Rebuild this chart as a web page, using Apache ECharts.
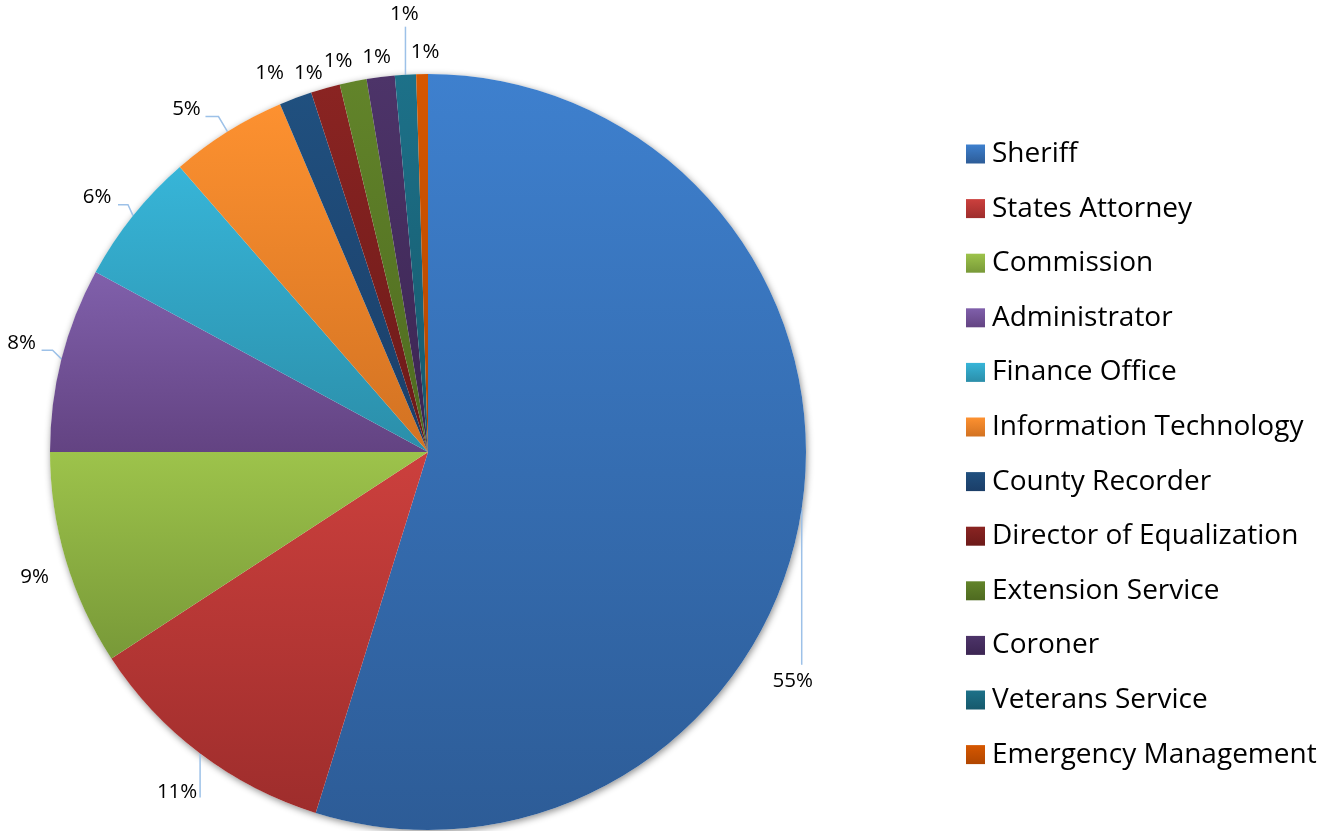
<!DOCTYPE html>
<html>
<head>
<meta charset="utf-8">
<title>Departments</title>
<script src="https://cdn.jsdelivr.net/npm/echarts@6/dist/echarts.min.js"></script>
<style>
  html, body { margin: 0; padding: 0; background: #ffffff; }
  #chart { width: 1319px; height: 831px; }
</style>
</head>
<body>
<div id="chart"></div>
<script>
// Department shares of the budget (percent)
const categories = [
  'Sheriff', 'States Attorney', 'Commission', 'Administrator', 'Finance Office',
  'Information Technology', 'County Recorder', 'Director of Equalization',
  'Extension Service', 'Coroner', 'Veterans Service', 'Emergency Management'
];
const shares = [54.8, 11.0, 9.2, 7.9, 5.7, 5.0, 1.4, 1.25, 1.15, 1.2, 0.9, 0.5];

// Slice fills: vertical gradient, lighter at the top of each slice
const sliceColors = [
  ['#3e80ce', '#2d5c97'],
  ['#cc403d', '#9e2d2c'],
  ['#9dc34b', '#789938'],
  ['#8060ab', '#634382'],
  ['#37b5d8', '#2b8ea9'],
  ['#fd9130', '#d27222'],
  ['#20507f', '#1b3e68'],
  ['#8a2422', '#6c1a19'],
  ['#62842a', '#4e6a20'],
  ['#4d3469', '#3b2552'],
  ['#1d7189', '#16596c'],
  ['#d65700', '#b04600']
];

// Label placement relative to the slice's outer mid-point, and leader-line shape
const labelGuides = [
  { at: [-9, 172], line: [[0, 0], [0, 156]] },
  { at: [-23, 39], line: [[0, 0], [0, 44]] },
  { at: [-31, 17], line: null },
  { at: [-40, -16], line: [[0, 0], [-9, -9], [-20, -9]] },
  { at: [-36, -19], line: [[0, 0], [-5, -11], [-15, -11]] },
  { at: [-41, -22], line: [[0, 0], [-9, -15], [-22, -15]] },
  { at: [-26, -25], line: null },
  { at: [-17, -15], line: null },
  { at: [-15, -20], line: null },
  { at: [-4, -20], line: null },
  { at: [-1, -61], line: [[0, 0], [0, -48]] },
  { at: [3, -22], line: null }
];

const FONT = '"Open Sans", "Noto Sans", sans-serif';
const CENTER = [428, 452];
const RADIUS = 378;

function grad(pair) {
  return new echarts.graphic.LinearGradient(0, 0, 0, 1, [
    { offset: 0, color: pair[0] },
    { offset: 1, color: pair[1] }
  ]);
}

const total = shares.reduce((a, b) => a + b, 0);

const pieData = categories.map((name, i) => ({
  name: name,
  value: shares[i],
  itemStyle: { color: grad(sliceColors[i]) }
}));

const chart = echarts.init(document.getElementById('chart'), null, { renderer: 'canvas' });

chart.setOption({
  backgroundColor: '#ffffff',
  animation: false,
  legend: {
    orient: 'vertical',
    left: 961,
    top: 133,
    icon: 'rect',
    itemWidth: 19,
    itemHeight: 19,
    itemGap: 22.6,
    selectedMode: false,
    data: categories,
    textStyle: {
      fontFamily: FONT,
      fontSize: 28,
      lineHeight: 32,
      color: '#000000',
      padding: [0, 0, 0, 2]
    }
  },
  series: [
    {
      // soft drop shadow under the whole pie
      type: 'pie',
      silent: true,
      z: 1,
      center: CENTER,
      radius: RADIUS,
      label: { show: false },
      labelLine: { show: false },
      data: [{ name: '', value: total }],
      itemStyle: {
        color: '#ffffff',
        shadowBlur: 7,
        shadowOffsetX: 1,
        shadowOffsetY: 2,
        shadowColor: 'rgba(0,0,0,0.45)'
      }
    },
    {
      type: 'pie',
      z: 2,
      center: CENTER,
      radius: RADIUS,
      startAngle: 90,
      clockwise: true,
      avoidLabelOverlap: false,
      percentPrecision: 0,
      data: pieData,
      itemStyle: { borderWidth: 0 },
      emphasis: { disabled: true },
      label: {
        show: true,
        position: 'outside',
        formatter: '{d}%',
        fontFamily: FONT,
        fontSize: 20.5,
        color: '#000000'
      },
      labelLine: {
        show: true,
        length: 12,
        length2: 10,
        lineStyle: { color: '#9dc1e8', width: 1.5 }
      },
      labelLayout: function (params) {
        const guide = labelGuides[params.dataIndex];
        const pts = params.labelLinePoints;
        if (!guide || !pts) return {};
        const p = pts[0];
        const line = guide.line
          ? guide.line.map(d => [p[0] + d[0], p[1] + d[1]])
          : [[p[0], p[1]], [p[0], p[1]]];
        return {
          x: p[0] + guide.at[0],
          y: p[1] + guide.at[1],
          align: 'center',
          verticalAlign: 'middle',
          labelLinePoints: line
        };
      }
    }
  ]
});
</script>
</body>
</html>
